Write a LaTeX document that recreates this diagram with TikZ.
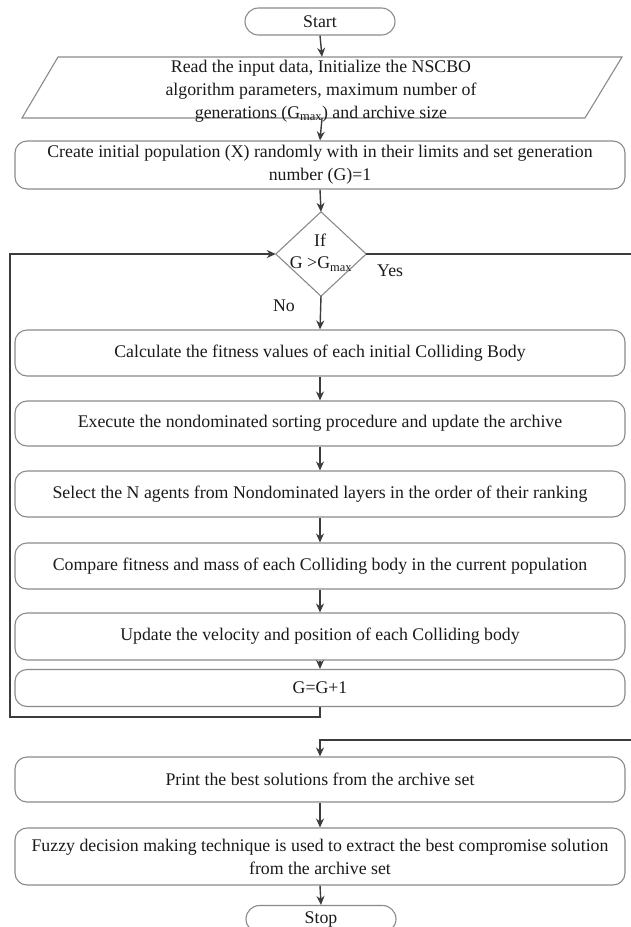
\documentclass[tikz,border=0pt]{standalone}
\usepackage{fontspec}
\setmainfont{Liberation Serif}
\usetikzlibrary{arrows.meta}
\definecolor{boxline}{HTML}{8A8A8A}
\definecolor{arrline}{HTML}{3C3C3C}
\definecolor{txt}{HTML}{1A1A1A}
\tikzset{
  base/.style={font=\fontsize{17.8}{23}\selectfont, text=txt, align=center, inner sep=0pt},
  pill/.style={base, draw=boxline, line width=1.1pt, rounded corners=13.5pt, minimum width=150pt, minimum height=27pt},
  procbox/.style={base, draw=boxline, line width=1.1pt, rounded corners=12pt, minimum width=610pt},
  plain/.style={base},
  conn/.style={draw=arrline, line width=1.4pt},
  arr/.style={conn, -{Stealth[length=9pt,width=8pt]}},
  lbl/.style={base}
}
\begin{document}
\begin{tikzpicture}[x=1pt,y=-1pt]
\useasboundingbox (0,0) rectangle (631,927);
% nodes
\node[pill] (start) at (320,21.5) {Start};
\node[plain, minimum width=560pt, minimum height=61pt] (read) at (322,87.5) {};
\draw[boxline, line width=1.1pt] (58,57) -- (622,57) -- (585,118) -- (22,118) -- cycle;
\node[plain] (readtxt) at (321,91) {Read the input data, Initialize the NSCBO\\algorithm parameters, maximum number of\\generations (G\textsubscript{max}) and archive size};
\node[procbox, minimum height=48pt] (create) at (320,165) {Create initial population (X) randomly with in their limits and set generation\\number (G)=1};
\node[plain, minimum width=90pt, minimum height=84pt] (dia) at (321,254) {};
\draw[boxline, line width=1.1pt] (dia.north) -- (dia.east) -- (dia.south) -- (dia.west) -- cycle;
\node[lbl] (if) at (320,240) {If};
\node[lbl] (cond) at (321,264) {G >G\textsubscript{max}};
\node[procbox, minimum height=46pt] (calc) at (320,353) {Calculate the fitness values of each initial Colliding Body};
\node[procbox, minimum height=45pt] (exec) at (320,423.5) {Execute the nondominated sorting procedure and update the archive};
\node[procbox, minimum height=46pt] (sel) at (320,494) {Select the N agents from Nondominated layers in the order of their ranking};
\node[procbox, minimum height=46pt] (comp) at (320,566) {Compare fitness and mass of each Colliding body in the current population};
\node[procbox, minimum height=47pt] (upd) at (320,636.5) {Update the velocity and position of each Colliding body};
\node[procbox, minimum height=37pt] (gg) at (320,688) {G=G+1};
\node[procbox, minimum height=45pt] (print) at (320,779.5) {Print the best solutions from the archive set};
\node[procbox, minimum height=57pt] (fuzzy) at (320,856.5) {Fuzzy decision making technique is used to extract the best compromise solution\\from the archive set};
\node[pill] (stop) at (321,919) {Stop};
\node[lbl, anchor=west] (yes) at (377,271) {Yes};
\node[lbl] (no) at (284,306) {No};
% coordinates
\coordinate (lp1) at (10,717);
\coordinate (lp2) at (10,254);
\coordinate (yesend) at (631,254);
\coordinate (rin) at (631,740);
% connectors
\draw[arr] (start.south) -- (read.north);
\draw[arr] (read.south) -- (create.north);
\draw[arr] (create.south) -- (dia.north);
\draw[arr] (dia.south) -- (calc.north);
\draw[arr] (calc.south) -- (exec.north);
\draw[arr] (exec.south) -- (sel.north);
\draw[arr] (sel.south) -- (comp.north);
\draw[arr] (comp.south) -- (upd.north);
\draw[arr] (upd.south) -- (gg.north);
\draw[arr] (gg.south) -- (gg.south |- lp1) -- (lp1) -- (lp2) -- (dia.west);
\draw[conn] (dia.east) -- (yesend);
\draw[arr] (rin) -- (rin -| print.north) -- (print.north);
\draw[arr] (print.south) -- (fuzzy.north);
\draw[arr] (fuzzy.south) -- (stop.north);
\end{tikzpicture}
\end{document}
